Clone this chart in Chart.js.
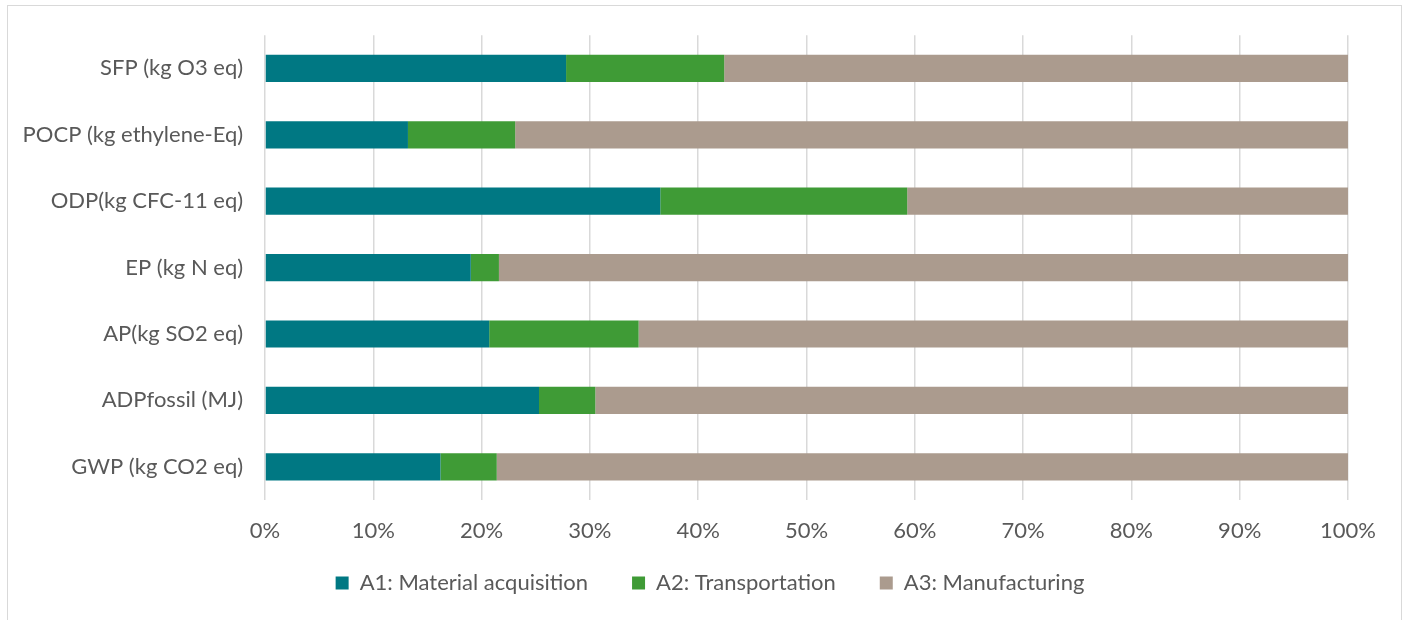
<!DOCTYPE html>
<html>
<head>
<meta charset="utf-8">
<script src="https://cdn.jsdelivr.net/npm/chart.js@4"></script>
<style>
  html, body { margin: 0; padding: 0; background: #ffffff; }
  #wrap { position: relative; width: 1408px; height: 620px; }
  #frame { position: absolute; left: 7px; top: 5px; width: 1395px; height: 620px; border: 1px solid #d9d9d9; box-sizing: border-box; pointer-events: none; }
  canvas { position: absolute; left: 0; top: 0; }
</style>
</head>
<body>
<div id="wrap">
  <canvas id="c" width="1408" height="620"></canvas>
  <div id="frame"></div>
</div>
<script>
const categories = [
  "SFP (kg O3 eq)",
  "POCP (kg ethylene-Eq)",
  "ODP(kg CFC-11 eq)",
  "EP (kg N eq)",
  "AP(kg SO2 eq)",
  "ADPfossil (MJ)",
  "GWP (kg CO2 eq)"
];
const seriesNames = ["A1: Material acquisition", "A2: Transportation", "A3: Manufacturing"];
const a1Material = [27.8, 13.2, 36.5, 19.0, 20.7, 25.3, 16.2];
const a2Transport = [14.6, 9.9, 22.8, 2.6, 13.8, 5.2, 5.2];
const a3Manufacturing = [57.6, 76.9, 40.7, 78.4, 65.5, 69.5, 78.6];
const xTickLabels = ["0%", "10%", "20%", "30%", "40%", "50%", "60%", "70%", "80%", "90%", "100%"];

const colors = ["#007883", "#3f9b36", "#ab9b8e"];
const textColor = "#595959";
const fontFamily = "Lato, 'Open Sans', sans-serif";

// shifts the legend box (layout only) to sit centred under the frame like the reference
const legendShift = {
  id: "legendShift",
  afterLayout(chart) {
    const lg = chart.legend;
    if (!lg) return;
    lg.left += 36; lg.right += 36;
    lg.top -= 17; lg.bottom -= 17;
  }
};

new Chart(document.getElementById("c"), {
  type: "bar",
  data: {
    labels: categories,
    datasets: [
      { label: seriesNames[0], data: a1Material, backgroundColor: colors[0] },
      { label: seriesNames[1], data: a2Transport, backgroundColor: colors[1] },
      { label: seriesNames[2], data: a3Manufacturing, backgroundColor: colors[2] }
    ]
  },
  plugins: [legendShift],
  options: {
    indexAxis: "y",
    responsive: false,
    animation: false,
    maintainAspectRatio: false,
    datasets: { bar: { categoryPercentage: 1.0, barPercentage: 0.41, borderWidth: 0 } },
    layout: { padding: { left: 0, right: 60, top: 34, bottom: -1 } },
    scales: {
      x: {
        stacked: true,
        min: 0,
        max: 100,
        grid: { color: "#d9d9d9", lineWidth: 1.5, drawTicks: false },
        border: { display: false },
        ticks: {
          stepSize: 10,
          padding: 18,
          color: textColor,
          font: { family: fontFamily, size: 22 },
          callback: (v, i) => xTickLabels[i]
        },
        afterFit: (s) => { s.height = 45; }
      },
      y: {
        stacked: true,
        grid: { display: false, drawTicks: false },
        border: { display: false },
        ticks: {
          padding: 22,
          color: textColor,
          font: { family: fontFamily, size: 22 }
        },
        afterFit: (s) => { s.width = 265; }
      }
    },
    plugins: {
      legend: {
        position: "bottom",
        labels: {
          boxWidth: 13,
          boxHeight: 13,
          padding: 44,
          color: textColor,
          font: { family: fontFamily, size: 22 }
        }
      },
      tooltip: { enabled: false }
    }
  }
});
</script>
</body>
</html>
